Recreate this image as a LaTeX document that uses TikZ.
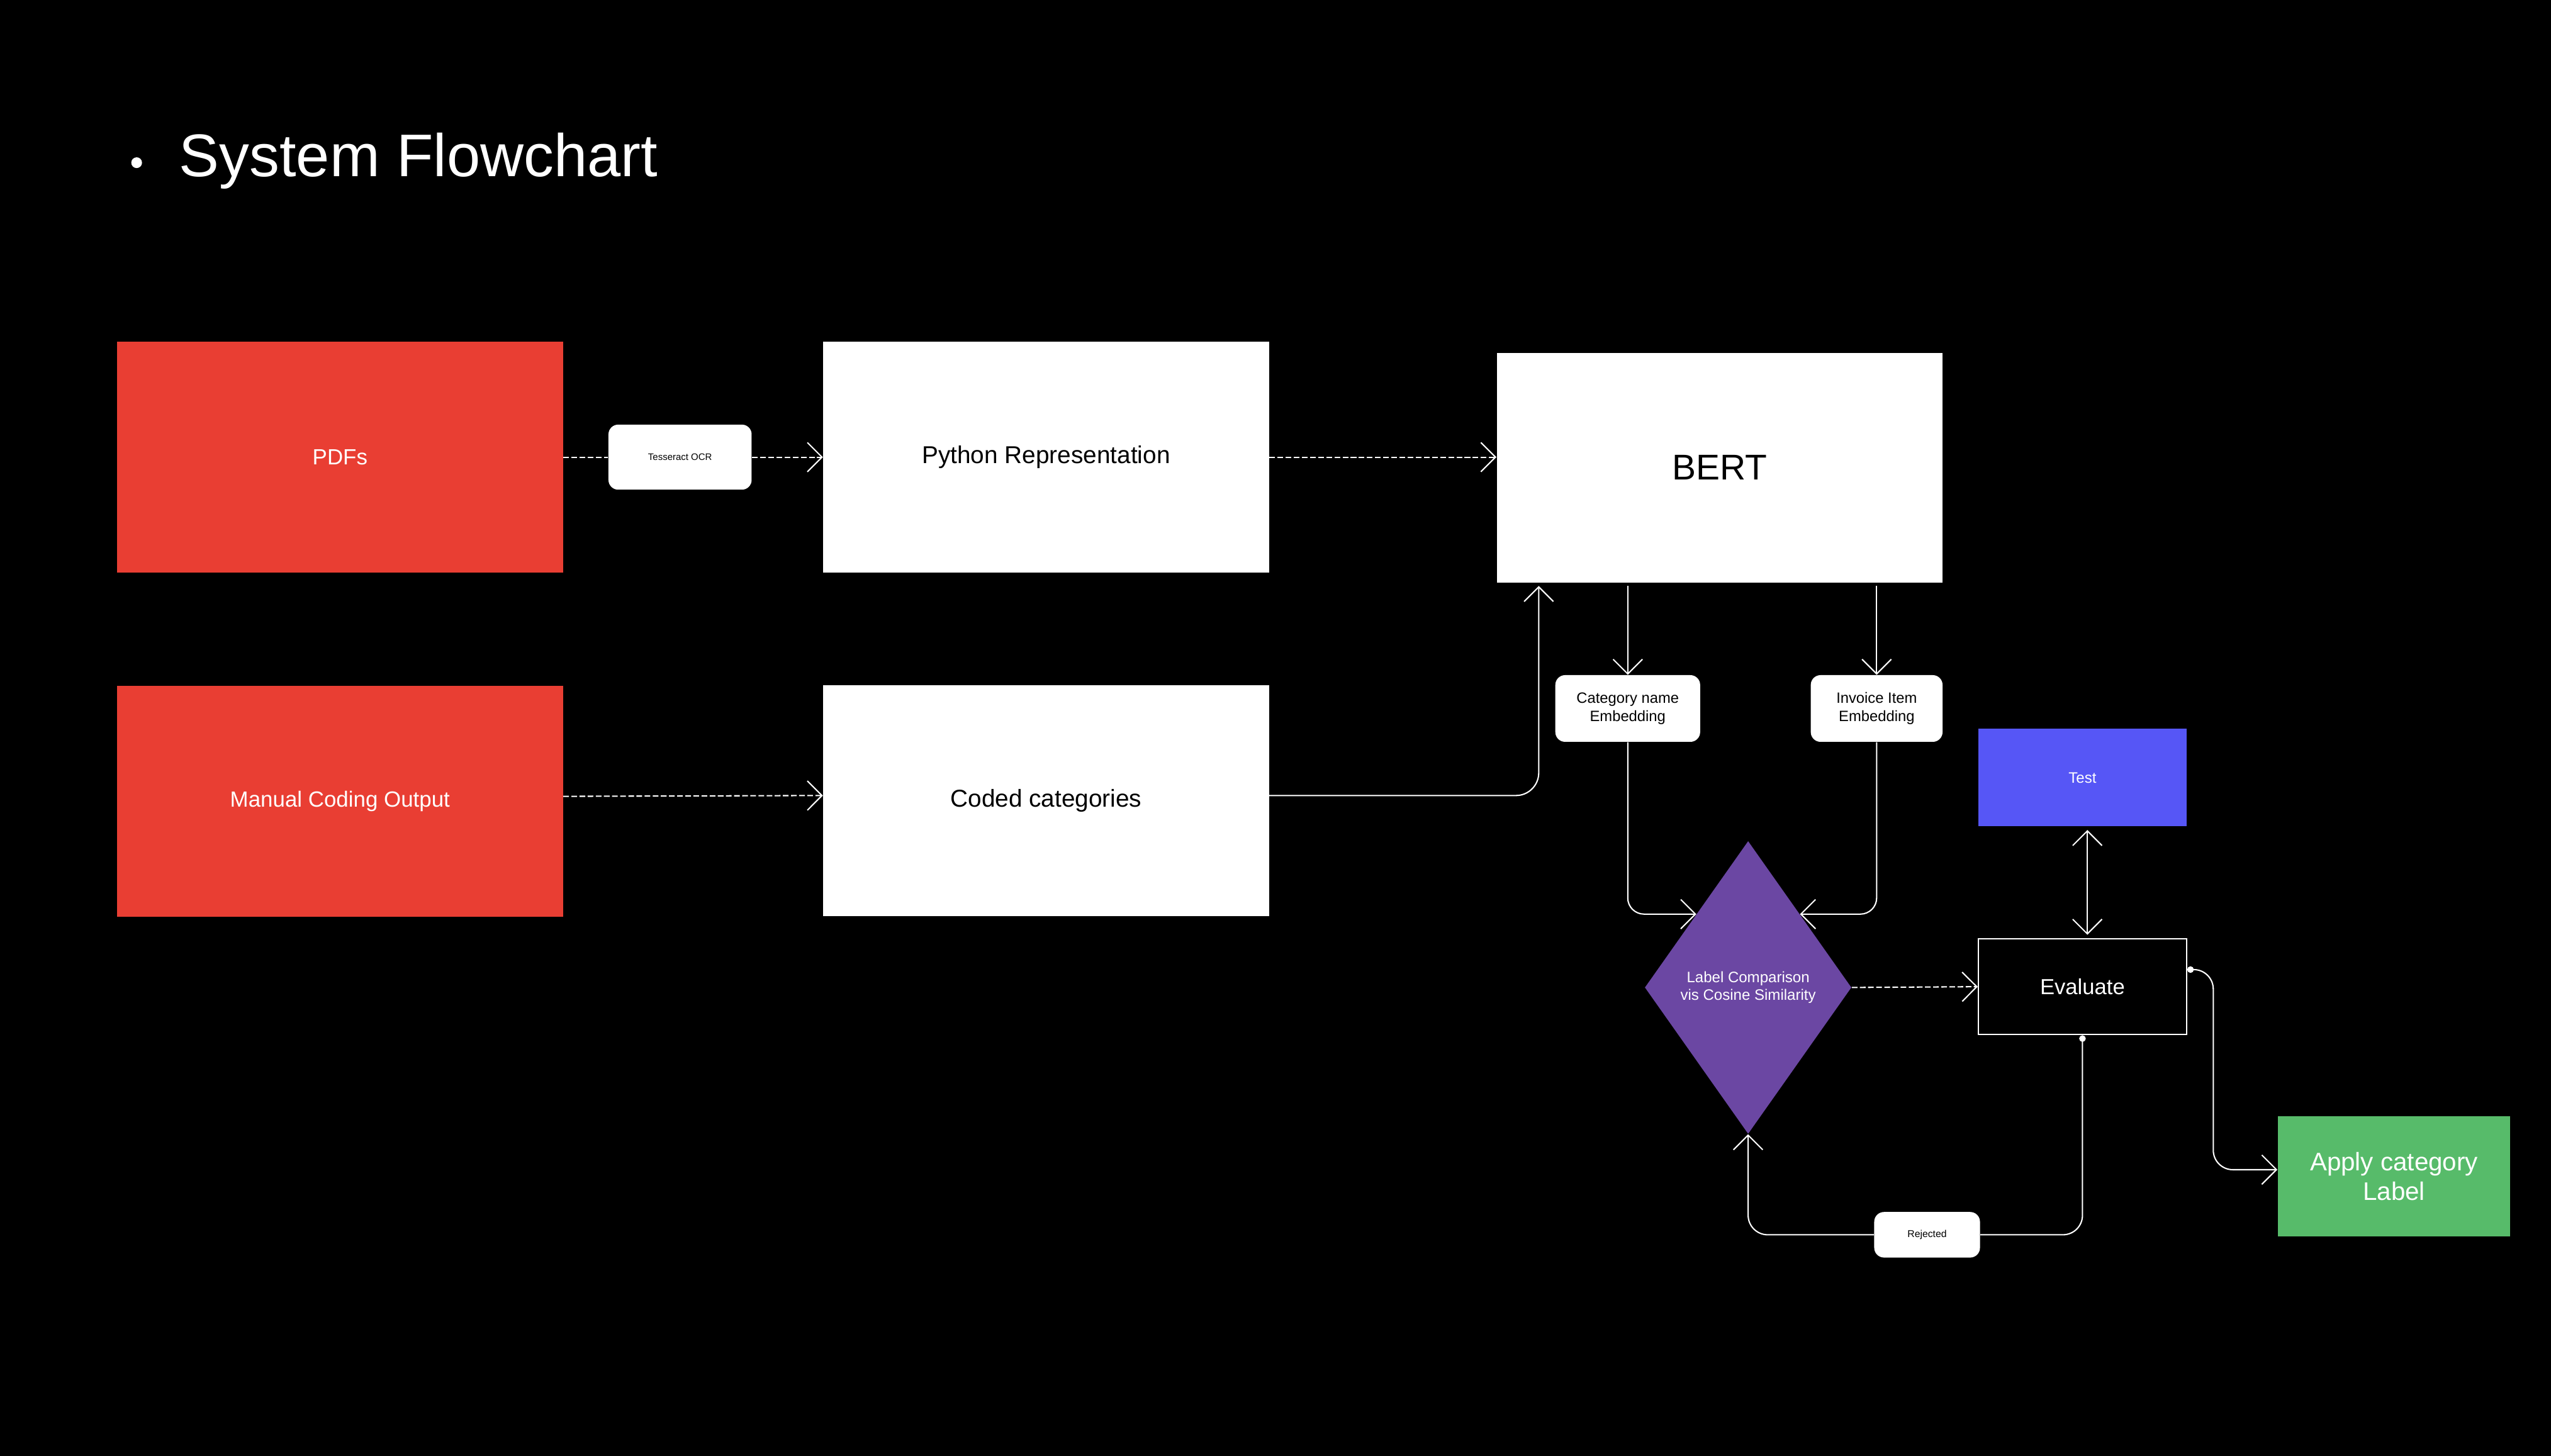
\documentclass[tikz,border=0pt]{standalone}
\usepackage{fontspec}
\setmainfont{Liberation Sans}
\usetikzlibrary{arrows.meta,shapes.geometric,calc}

\definecolor{srcred}{RGB}{233,62,51}
\definecolor{cmppurple}{RGB}{107,71,163}
\definecolor{testblue}{RGB}{86,86,246}
\definecolor{applygreen}{RGB}{87,187,106}

\tikzset{
  bigbox/.style={rectangle, inner sep=1pt, minimum width=274pt, minimum height=142pt},
  redbox/.style={bigbox, fill=srcred, text=white, font=\fontsize{13.5}{16}\selectfont},
  whitebox/.style={bigbox, fill=white, text=black, font=\fontsize{15}{18}\selectfont},
  tagbox/.style={rectangle, rounded corners=6pt, fill=white, text=black, align=center, inner sep=1pt},
  link/.style={draw=white, line width=0.8pt},
  dashlink/.style={link, dash pattern=on 3.5pt off 1.5pt}
}

\begin{document}
\begin{tikzpicture}[x=1pt,y=1pt,yscale=-1,
  >={Straight Barb[length=9pt,width=18pt]}]
% background and page size
\fill[black] (0,0) rectangle (1568,895);
\useasboundingbox (0,0) rectangle (1568,895);

% title
\fill[white] (84,100) circle (3.3pt);
\node[anchor=west, text=white, inner sep=0pt, font=\fontsize{37}{44}\selectfont] (title) at (110,99) {System Flowchart};

% sources
\node[redbox] (pdfs) at (209,281) {PDFs};
\node[redbox] (manual) at (209,492.5) {Manual Coding Output};

% middle column
\node[tagbox, minimum width=88pt, minimum height=40pt, font=\fontsize{5.8}{7}\selectfont] (ocr) at (418,281) {Tesseract OCR};
\node[whitebox] (python) at (643,281) {Python Representation};
\node[whitebox] (coded) at (643,492) {Coded categories};

% model
\node[bigbox, fill=white, minimum height=141pt, font=\fontsize{22}{26}\selectfont] (bert) at (1057,287.5) {BERT};
\node[tagbox, minimum width=89pt, minimum height=41pt, font=\fontsize{9.2}{11}\selectfont] (catemb) at (1000.5,435.5) {Category name\\Embedding};
\node[tagbox, minimum width=81pt, minimum height=41pt, font=\fontsize{9.2}{11}\selectfont] (invemb) at (1153.5,435.5) {Invoice Item\\Embedding};

% comparison and evaluation
\node[diamond, fill=cmppurple, text=white, inner sep=0pt, aspect=0.7, minimum width=127pt, minimum height=180pt, align=center, font=\fontsize{9.3}{11}\selectfont] (compare) at (1074.5,607) {Label Comparison\\vis Cosine Similarity};
\node[rectangle, fill=black, draw=white, line width=0.8pt, minimum width=128pt, minimum height=59pt, text=white, font=\fontsize{13.4}{16}\selectfont] (evaluate) at (1280,606.5) {Evaluate};
\node[rectangle, fill=testblue, text=white, minimum width=128pt, minimum height=60pt, font=\fontsize{9.3}{11}\selectfont] (test) at (1280,478) {Test};
\node[tagbox, minimum width=65pt, minimum height=28pt, font=\fontsize{6.1}{7}\selectfont] (rejected) at (1184.5,759) {Rejected};
\node[rectangle, fill=applygreen, text=white, align=center, minimum width=143pt, minimum height=74pt, font=\fontsize{15.6}{18}\selectfont] (apply) at (1471.5,723) {Apply category\\Label};

% connectors
\draw[dashlink] (pdfs.east) -- (ocr.west);
\draw[dashlink, ->] (ocr.east) -- (python.west);
\draw[dashlink, ->] (python.east) -- (python.east -| bert.west);
\draw[dashlink, ->] ($(manual.east)+(0,-3)$) -- ($(coded.west)+(0,-3)$);
\draw[link, ->, rounded corners=14pt] ($(coded.east)+(0,-3)$) -| ($(bert.south west)+(26,2)$);
\draw[link, ->] ($(catemb.north |- bert.south)+(0,2)$) -- (catemb.north);
\draw[link, ->] ($(invemb.north |- bert.south)+(0,2)$) -- (invemb.north);
\draw[link, ->, rounded corners=10pt] (catemb.south) |- (compare.north west);
\draw[link, ->, rounded corners=10pt] (invemb.south) |- (compare.north east);
\draw[dashlink, ->] (compare.east) -- (evaluate.west);
\draw[link, <->] ($(test.south)+(3,2)$) -- ($(evaluate.north)+(3,-2)$);
\draw[link, {Circle[length=4pt]}-, rounded corners=12pt] (evaluate.south) |- (rejected.east);
\draw[link, ->, rounded corners=12pt] (rejected.west) -| (compare.south);
\draw[link, {Circle[length=4pt]}->, rounded corners=12pt] ($(evaluate.east)+(0,-10.5)$) -- ++(16,0) |- ($(apply.west)+(0,-4)$);

\end{tikzpicture}
\end{document}
